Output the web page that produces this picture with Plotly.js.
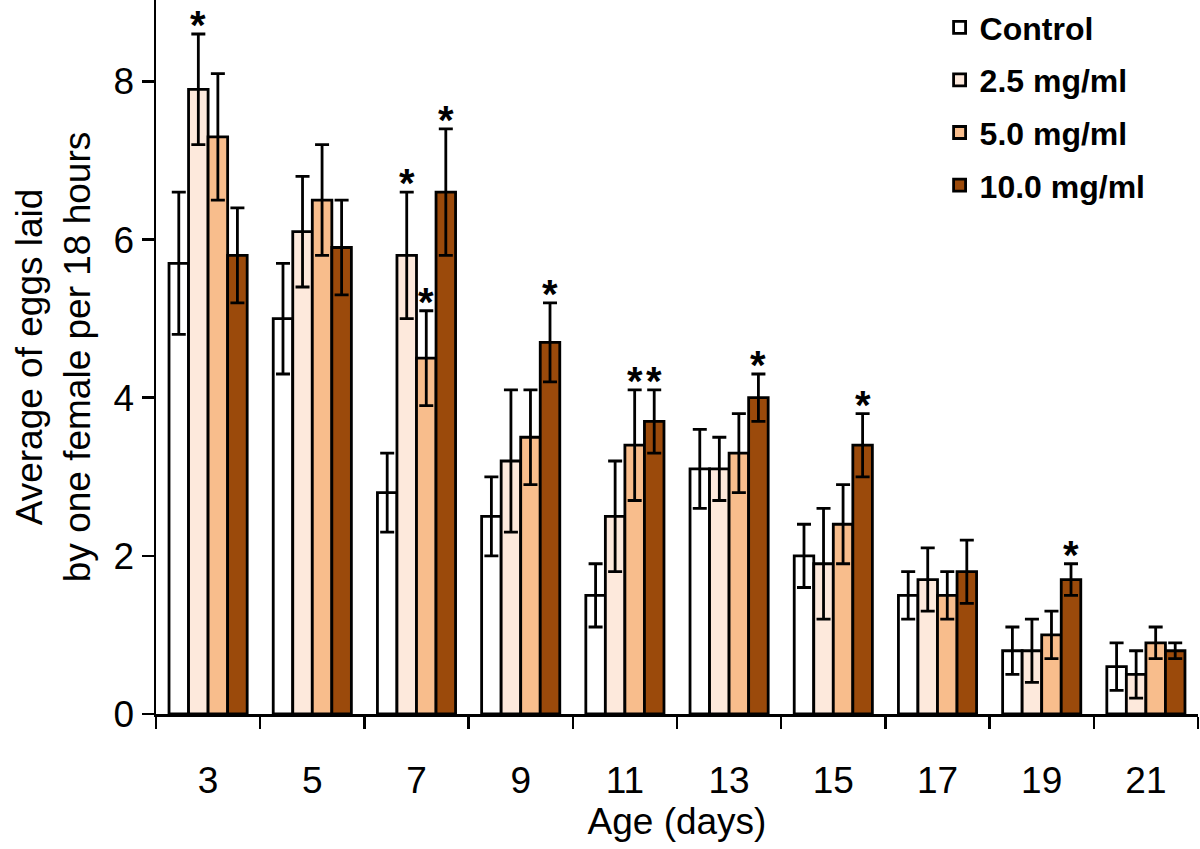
<!DOCTYPE html>
<html>
<head>
<meta charset="utf-8">
<script src="https://cdn.plot.ly/plotly-3.0.1.min.js"></script>
<style>html,body{margin:0;padding:0;background:#fff;}#chart{width:1200px;height:849px;}</style>
</head>
<body>
<div id="chart"></div>
<script>
// Age (days) categories
const days = ['3', '5', '7', '9', '11', '13', '15', '17', '19', '21'];
const seriesNames = ['Control', '2.5 mg/ml', '5.0 mg/ml', '10.0 mg/ml'];
// Mean eggs laid per female per 18 h
const control = [5.7, 5.0, 2.8, 2.5, 1.5, 3.1, 2.0, 1.5, 0.8, 0.6];
const dose25  = [7.9, 6.1, 5.8, 3.2, 2.5, 3.1, 1.9, 1.7, 0.8, 0.5];
const dose50  = [7.3, 6.5, 4.5, 3.5, 3.4, 3.3, 2.4, 1.5, 1.0, 0.9];
const dose100 = [5.8, 5.9, 6.6, 4.7, 3.7, 4.0, 3.4, 1.8, 1.7, 0.8];
// Error bar half-lengths
const controlErr = [0.9, 0.7, 0.5, 0.5, 0.4, 0.5, 0.4, 0.3, 0.3, 0.3];
const dose25Err  = [0.7, 0.7, 0.8, 0.9, 0.7, 0.4, 0.7, 0.4, 0.4, 0.3];
const dose50Err  = [0.8, 0.7, 0.6, 0.6, 0.7, 0.5, 0.5, 0.3, 0.3, 0.2];
const dose100Err = [0.6, 0.6, 0.8, 0.5, 0.4, 0.3, 0.4, 0.4, 0.2, 0.1];
// Significance markers: day and series index (0=Control .. 3=10.0 mg/ml)
const sigDay    = ['3', '7', '7', '7', '9', '11', '11', '13', '15', '19'];
const sigSeries = [1, 1, 2, 3, 3, 2, 3, 3, 3, 3];
const yTicks = [0, 2, 4, 6, 8];

const values = [control, dose25, dose50, dose100];
const errors = [controlErr, dose25Err, dose50Err, dose100Err];
const colors = ['#ffffff', '#fde9dc', '#f8bd8c', '#9b4a0b'];

const FONT = 'Liberation Sans, Arial, Helvetica, sans-serif';
const bargap = 0.25;

const traces = values.map((v, i) => ({
  type: 'bar',
  name: seriesNames[i],
  x: days,
  y: v,
  legendgroup: 'g' + i,
  marker: { color: colors[i], line: { color: '#000', width: 2.8 } },
  error_y: { type: 'data', array: errors[i], visible: true, color: '#000', thickness: 2.8, width: 7 }
}));

const nS = values.length;
const barW = (1 - bargap) / nS;
const annotations = sigDay.map((d, k) => {
  const s = sigSeries[k];
  const ci = days.indexOf(d);
  return {
    x: ci - (1 - bargap) / 2 + barW * (s + 0.5),
    y: values[s][ci] + errors[s][ci],
    xref: 'x', yref: 'y',
    text: '<b>*</b>',
    showarrow: false,
    yanchor: 'bottom',
    yshift: -15,
    font: { family: FONT, size: 40, color: '#000' }
  };
});

const layout = {
  width: 1200, height: 849,
  margin: { l: 156, r: 2, t: 0, b: 135 },
  paper_bgcolor: '#fff', plot_bgcolor: '#fff',
  barmode: 'group', bargap: bargap, bargroupgap: 0,
  font: { family: FONT, color: '#000' },
  showlegend: true,
  legend: {
    x: 0.752, xanchor: 'left', y: 1.0, yanchor: 'top',
    font: { family: FONT, size: 32, weight: 'bold', color: '#000' },
    traceorder: 'grouped', tracegroupgap: 8,
    bgcolor: 'rgba(0,0,0,0)', itemwidth: 30
  },
  xaxis: {
    type: 'category',
    tickson: 'boundaries',
    ticks: 'outside', ticklen: 12, tickwidth: 2.5, tickcolor: '#000',
    showline: true, linecolor: '#000', linewidth: 2.5,
    showgrid: false, zeroline: false,
    tickfont: { family: FONT, size: 37, color: '#000' },
    ticklabelstandoff: 32,
    title: { text: 'Age (days)', font: { family: FONT, size: 37, color: '#000' }, standoff: 4 }
  },
  yaxis: {
    range: [0, 9.03],
    tickvals: yTicks,
    ticktext: yTicks.map(String),
    ticks: 'outside', ticklen: 12, tickwidth: 2.5, tickcolor: '#000',
    showline: true, linecolor: '#000', linewidth: 2.5,
    showgrid: false, zeroline: false,
    tickfont: { family: FONT, size: 37, color: '#000' },
    title: { text: 'Average of eggs laid<br>by one female per 18 hours', font: { family: FONT, size: 37, color: '#000' }, standoff: 12 }
  },
  annotations: annotations
};

Plotly.newPlot('chart', traces, layout, { displayModeBar: false, staticPlot: true });
</script>
</body>
</html>
